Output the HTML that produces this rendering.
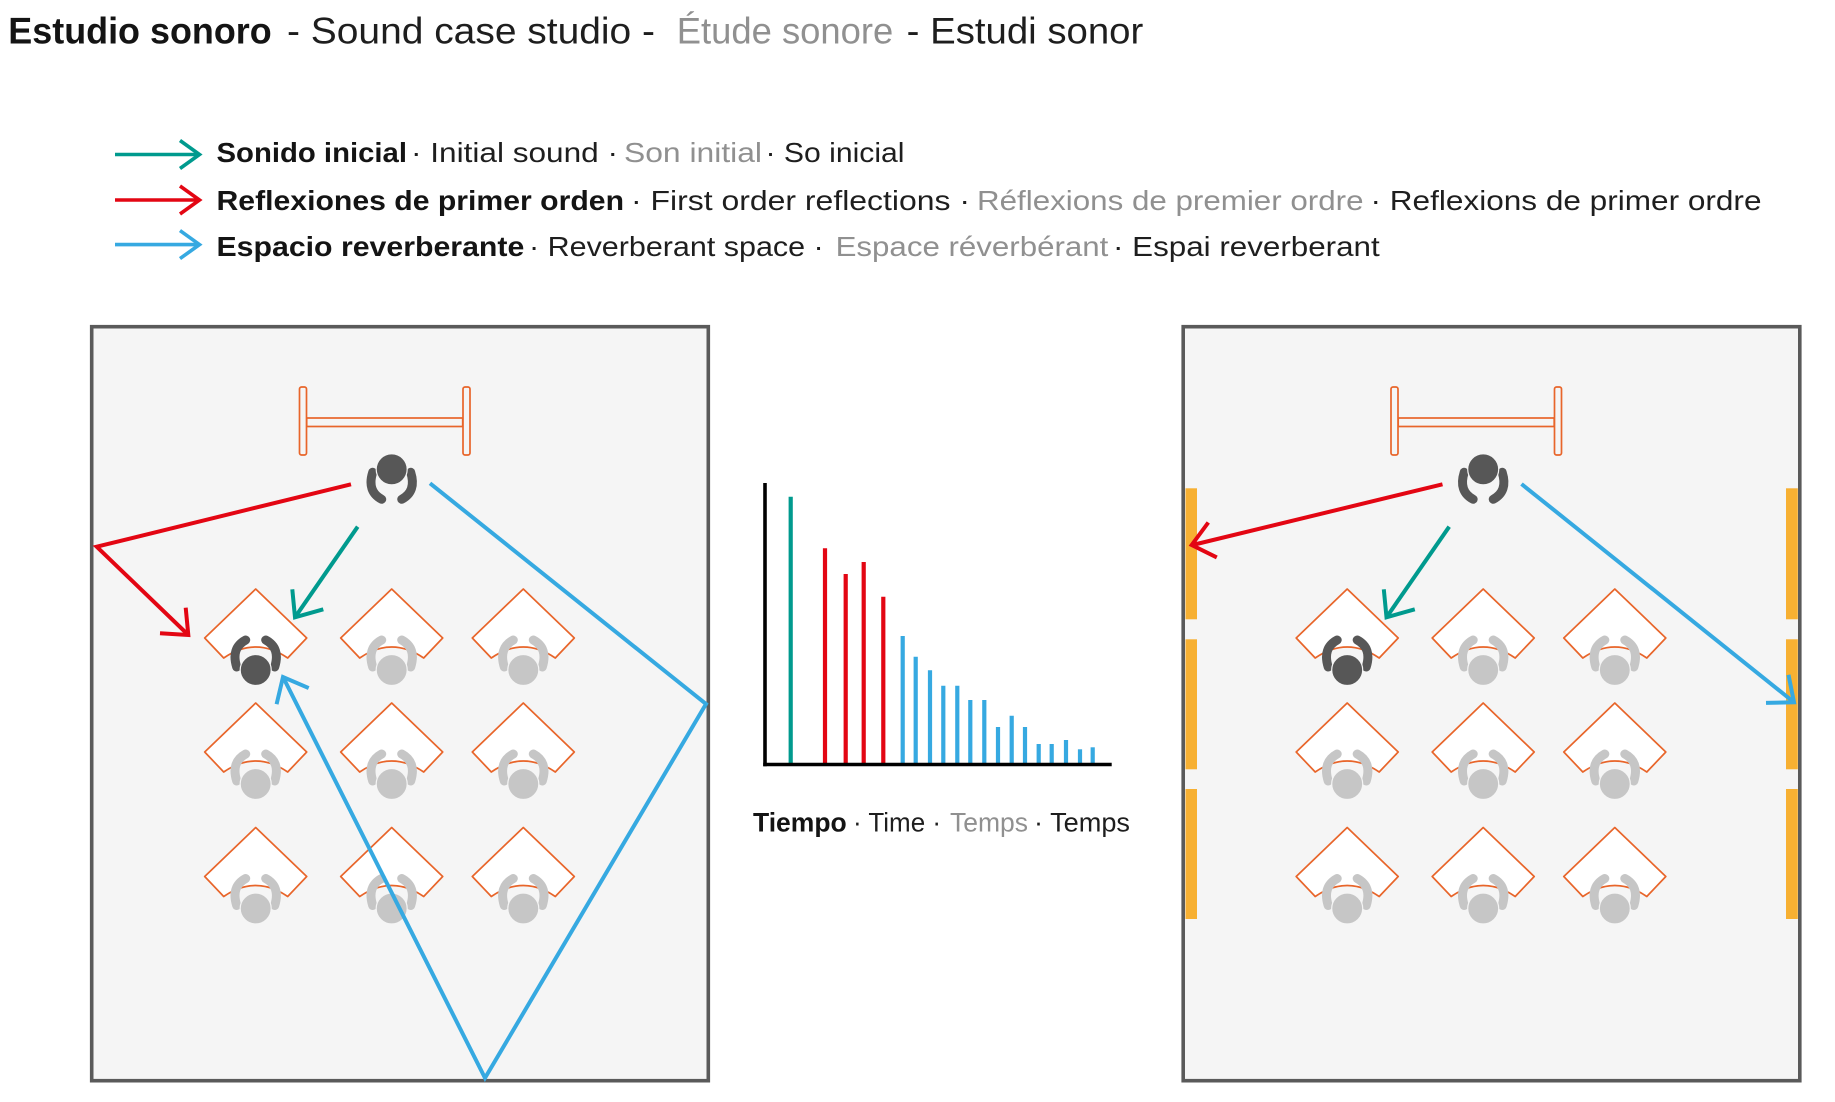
<!DOCTYPE html>
<html>
<head>
<meta charset="utf-8">
<style>
html,body{margin:0;padding:0;background:#fff;}
svg{display:block;}
text{font-family:"Liberation Sans","DejaVu Sans",sans-serif;}
.b{font-weight:bold;fill:#141414;}
.r{fill:#1e1e1e;}
.g{fill:#909090;}
</style>
</head>
<body>
<svg width="1835" height="1102" viewBox="0 0 1835 1102" xmlns="http://www.w3.org/2000/svg">
<defs>
  <g id="desk">
    <path d="M0,-81 L51,-32 L32,-12 Q0,-34 -32,-12 L-51,-32 Z" fill="#ffffff" stroke="#e8652a" stroke-width="1.7" stroke-linejoin="round"/>
  </g>
  <g id="stuL">
    <path d="M-19,-3 Q-25,-22 -10,-30" fill="none" stroke="#c6c6c6" stroke-width="9" stroke-linecap="round"/>
    <path d="M19,-3 Q25,-22 10,-30" fill="none" stroke="#c6c6c6" stroke-width="9" stroke-linecap="round"/>
    <circle cx="0" cy="0" r="15.5" fill="#c6c6c6" stroke="#f5f5f5" stroke-width="1.2"/>
  </g>
  <g id="stuD">
    <path d="M-19,-3 Q-25,-22 -10,-30" fill="none" stroke="#575757" stroke-width="9" stroke-linecap="round"/>
    <path d="M19,-3 Q25,-22 10,-30" fill="none" stroke="#575757" stroke-width="9" stroke-linecap="round"/>
    <circle cx="0" cy="0" r="15.5" fill="#575757" stroke="#f5f5f5" stroke-width="1.2"/>
  </g>
  <g id="teacher">
    <path d="M-19,3 Q-25,22 -10,30" fill="none" stroke="#575757" stroke-width="9" stroke-linecap="round"/>
    <path d="M19,3 Q25,22 10,30" fill="none" stroke="#575757" stroke-width="9" stroke-linecap="round"/>
    <circle cx="0" cy="0" r="15.5" fill="#575757" stroke="#f5f5f5" stroke-width="1.2"/>
  </g>
  <g id="room">
    <!-- podium -->
    <rect x="306.7" y="418" width="156" height="8.5" fill="none" stroke="#e8652a" stroke-width="1.7"/>
    <rect x="299.5" y="387" width="7" height="68" rx="2" fill="#f5f5f5" stroke="#e8652a" stroke-width="1.7"/>
    <rect x="463" y="387" width="7" height="68" rx="2" fill="#f5f5f5" stroke="#e8652a" stroke-width="1.7"/>
    <!-- teacher -->
    <use href="#teacher" x="391.7" y="469.3"/>
    <!-- desks -->
    <use href="#desk" x="255.7" y="670"/>
    <use href="#desk" x="391.7" y="670"/>
    <use href="#desk" x="523.3" y="670"/>
    <use href="#desk" x="255.7" y="784"/>
    <use href="#desk" x="391.7" y="784"/>
    <use href="#desk" x="523.3" y="784"/>
    <use href="#desk" x="255.7" y="908.5"/>
    <use href="#desk" x="391.7" y="908.5"/>
    <use href="#desk" x="523.3" y="908.5"/>
    <!-- students -->
    <use href="#stuD" x="255.7" y="670"/>
    <use href="#stuL" x="391.7" y="670"/>
    <use href="#stuL" x="523.3" y="670"/>
    <use href="#stuL" x="255.7" y="784"/>
    <use href="#stuL" x="391.7" y="784"/>
    <use href="#stuL" x="523.3" y="784"/>
    <use href="#stuL" x="255.7" y="908.5"/>
    <use href="#stuL" x="391.7" y="908.5"/>
    <use href="#stuL" x="523.3" y="908.5"/>
    <!-- teal direct sound -->
    <line x1="357.7" y1="526.7" x2="295" y2="617.3" stroke="#009a8e" stroke-width="4"/>
    <polyline points="323.3,609.3 295,617.3 292.3,589.3" fill="none" stroke="#009a8e" stroke-width="4"/>
  </g>
</defs>

<!-- Title -->
<text x="8.3" y="43.5" font-size="37" class="b" textLength="263.4" lengthAdjust="spacingAndGlyphs">Estudio sonoro</text>
<text x="287" y="43.5" font-size="37" class="r" textLength="368" lengthAdjust="spacingAndGlyphs">- Sound case studio  -</text>
<text x="676.7" y="43.5" font-size="37" class="g" textLength="216.6" lengthAdjust="spacingAndGlyphs">Étude sonore</text>
<text x="906.7" y="43.5" font-size="37" class="r" textLength="236.6" lengthAdjust="spacingAndGlyphs">- Estudi sonor</text>

<!-- Legend arrows -->
<g fill="none" stroke-width="3.6">
  <line x1="115" y1="154.5" x2="198" y2="154.5" stroke="#009a8e"/>
  <polyline points="180,140.5 199.5,154.5 180,168.5" stroke="#009a8e"/>
  <line x1="115" y1="200" x2="198" y2="200" stroke="#e30613"/>
  <polyline points="180,186 199.5,200 180,214" stroke="#e30613"/>
  <line x1="115" y1="244.6" x2="198" y2="244.6" stroke="#36a9e1"/>
  <polyline points="180,230.6 199.5,244.6 180,258.6" stroke="#36a9e1"/>
</g>

<!-- Legend text -->
<text x="216.5" y="162" font-size="28" class="b" textLength="190.5" lengthAdjust="spacingAndGlyphs">Sonido inicial</text>
<text x="411" y="162" font-size="28" class="r" textLength="207" lengthAdjust="spacingAndGlyphs">· Initial sound ·</text>
<text x="624" y="162" font-size="28" class="g" textLength="138" lengthAdjust="spacingAndGlyphs">Son initial</text>
<text x="765.5" y="162" font-size="28" class="r" textLength="139" lengthAdjust="spacingAndGlyphs">· So inicial</text>

<text x="216.5" y="210" font-size="28" class="b" textLength="407.5" lengthAdjust="spacingAndGlyphs">Reflexiones de primer orden</text>
<text x="631" y="210" font-size="28" class="r" textLength="339" lengthAdjust="spacingAndGlyphs">· First order reflections ·</text>
<text x="977" y="210" font-size="28" class="g" textLength="386.5" lengthAdjust="spacingAndGlyphs">Réflexions de premier ordre</text>
<text x="1370.5" y="210" font-size="28" class="r" textLength="391" lengthAdjust="spacingAndGlyphs">· Reflexions de primer ordre</text>

<text x="216.5" y="256" font-size="28" class="b" textLength="307.8" lengthAdjust="spacingAndGlyphs">Espacio reverberante</text>
<text x="529" y="256" font-size="28" class="r" textLength="294.7" lengthAdjust="spacingAndGlyphs">· Reverberant space ·</text>
<text x="835.6" y="256" font-size="28" class="g" textLength="272.7" lengthAdjust="spacingAndGlyphs">Espace réverbérant</text>
<text x="1113" y="256" font-size="28" class="r" textLength="266.7" lengthAdjust="spacingAndGlyphs">· Espai reverberant</text>

<!-- Left room -->
<rect x="91.7" y="326.7" width="616.6" height="754" fill="#f5f5f5" stroke="#5a5a5a" stroke-width="3.6"/>
<use href="#room"/>
<!-- red reflection left -->
<polyline points="351,484.3 96.7,546.7 188.3,635" fill="none" stroke="#e30613" stroke-width="4" stroke-linejoin="miter"/>
<polyline points="160,633.3 188.3,635 185.7,607.7" fill="none" stroke="#e30613" stroke-width="4"/>
<!-- blue reverberant left -->
<polyline points="430,483.3 706,704 485,1078 283,677" fill="none" stroke="#36a9e1" stroke-width="4" stroke-linejoin="miter"/>
<polyline points="308.7,688.1 283,677 276.6,704.2" fill="none" stroke="#36a9e1" stroke-width="4"/>

<!-- Right room -->
<rect x="1183.2" y="326.7" width="616.6" height="754" fill="#f5f5f5" stroke="#5a5a5a" stroke-width="3.6"/>
<g fill="#f7b032">
  <rect x="1185.5" y="488.3" width="11.5" height="131"/>
  <rect x="1185.5" y="639.3" width="11.5" height="130"/>
  <rect x="1185.5" y="789" width="11.5" height="130"/>
  <rect x="1786" y="488.3" width="11.8" height="131"/>
  <rect x="1786" y="639.3" width="11.8" height="130"/>
  <rect x="1786" y="789" width="11.8" height="130"/>
</g>
<use href="#room" x="1091.5"/>
<!-- red right -->
<line x1="1442.5" y1="484.3" x2="1192.5" y2="545" stroke="#e30613" stroke-width="4"/>
<polyline points="1208.3,522.5 1191.7,545 1216.8,557.4" fill="none" stroke="#e30613" stroke-width="4"/>
<!-- blue right -->
<line x1="1521.5" y1="484" x2="1793" y2="701.5" stroke="#36a9e1" stroke-width="4"/>
<polyline points="1766,702.9 1794,702.3 1788.5,674.8" fill="none" stroke="#36a9e1" stroke-width="4"/>

<!-- Chart -->
<g stroke-width="4.2">
  <line x1="790.7" y1="496.7" x2="790.7" y2="764" stroke="#009a8e"/>
  <line x1="825" y1="548.3" x2="825" y2="764" stroke="#e30613"/>
  <line x1="845.7" y1="574" x2="845.7" y2="764" stroke="#e30613"/>
  <line x1="863.7" y1="562" x2="863.7" y2="764" stroke="#e30613"/>
  <line x1="883.3" y1="596.7" x2="883.3" y2="764" stroke="#e30613"/>
  <line x1="902.7" y1="636" x2="902.7" y2="764" stroke="#36a9e1"/>
  <line x1="915.7" y1="656.7" x2="915.7" y2="764" stroke="#36a9e1"/>
  <line x1="930" y1="670.3" x2="930" y2="764" stroke="#36a9e1"/>
  <line x1="943.3" y1="685.7" x2="943.3" y2="764" stroke="#36a9e1"/>
  <line x1="957.3" y1="685.7" x2="957.3" y2="764" stroke="#36a9e1"/>
  <line x1="970.3" y1="700" x2="970.3" y2="764" stroke="#36a9e1"/>
  <line x1="984.3" y1="700" x2="984.3" y2="764" stroke="#36a9e1"/>
  <line x1="998" y1="727" x2="998" y2="764" stroke="#36a9e1"/>
  <line x1="1011.7" y1="715.7" x2="1011.7" y2="764" stroke="#36a9e1"/>
  <line x1="1025" y1="727" x2="1025" y2="764" stroke="#36a9e1"/>
  <line x1="1038.7" y1="744" x2="1038.7" y2="764" stroke="#36a9e1"/>
  <line x1="1051.7" y1="744" x2="1051.7" y2="764" stroke="#36a9e1"/>
  <line x1="1066" y1="740" x2="1066" y2="764" stroke="#36a9e1"/>
  <line x1="1080" y1="749.3" x2="1080" y2="764" stroke="#36a9e1"/>
  <line x1="1092.7" y1="747.3" x2="1092.7" y2="764" stroke="#36a9e1"/>
</g>
<line x1="765" y1="483" x2="765" y2="766.2" stroke="#000" stroke-width="3.6"/>
<line x1="763.2" y1="764.5" x2="1111.7" y2="764.5" stroke="#000" stroke-width="3.6"/>

<text x="753" y="831.7" font-size="27" class="b" textLength="93.7" lengthAdjust="spacingAndGlyphs">Tiempo</text>
<text x="853" y="831.7" font-size="27" class="r" textLength="88" lengthAdjust="spacingAndGlyphs">· Time ·</text>
<text x="950" y="831.7" font-size="27" class="g" textLength="78" lengthAdjust="spacingAndGlyphs">Temps</text>
<text x="1034" y="831.7" font-size="27" class="r" textLength="96" lengthAdjust="spacingAndGlyphs">· Temps</text>
</svg>
</body>
</html>
